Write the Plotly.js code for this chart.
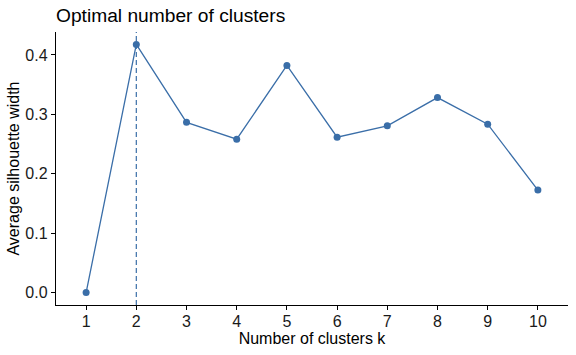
<!DOCTYPE html>
<html>
<head>
<meta charset="utf-8">
<script src="https://cdn.plot.ly/plotly-3.0.1.min.js"></script>
<style>html,body{margin:0;padding:0;background:#fff}#chart{width:576px;height:355px}</style>
</head>
<body>
<div id="chart"></div>
<script>
const clusters = [1, 2, 3, 4, 5, 6, 7, 8, 9, 10];
const silhouette = [0.000, 0.4177, 0.2865, 0.2582, 0.3824, 0.2615, 0.2807, 0.3282, 0.2834, 0.1726];
const optimalK = 2;
const xTickLabels = ['1','2','3','4','5','6','7','8','9','10'];
const yTickVals = [0.0, 0.1, 0.2, 0.3, 0.4];
const yTickLabels = ['0.0', '0.1', '0.2', '0.3', '0.4'];

const color = '#3a6ea8';
const font = 'Arial, "Liberation Sans", Helvetica, sans-serif';

const yRange = [-0.0209, 0.4386];

const traces = [
  {
    x: [optimalK, optimalK],
    y: yRange,
    mode: 'lines',
    line: {color: color, width: 1.2, dash: '5px,3px'},
    hoverinfo: 'skip',
    showlegend: false
  },
  {
    x: clusters,
    y: silhouette,
    mode: 'lines+markers',
    line: {color: color, width: 1.3},
    marker: {color: color, size: 7},
    showlegend: false
  }
];

const layout = {
  width: 576,
  height: 355,
  margin: {l: 56, r: 8, t: 32, b: 50},
  paper_bgcolor: '#fff',
  plot_bgcolor: '#fff',
  font: {family: font, size: 16, color: '#000'},
  title: {
    text: 'Optimal number of clusters',
    font: {family: font, size: 19.2, color: '#000'},
    x: 56 / 576, xanchor: 'left', xref: 'container',
    y: 1 - 15 / 355, yanchor: 'middle', yref: 'container'
  },
  xaxis: {
    range: [0.4, 10.6],
    tickvals: clusters,
    ticktext: xTickLabels,
    ticks: 'outside', ticklen: 4, tickwidth: 1, tickcolor: '#000',
    ticklabelstandoff: -2,
    showline: true, linecolor: '#000', linewidth: 1.2,
    showgrid: false, zeroline: false,
    tickfont: {family: font, size: 16, color: '#1a1a1a'},
    title: {text: 'Number of clusters k', font: {family: font, size: 16, color: '#000'}, standoff: 0}
  },
  yaxis: {
    range: yRange,
    tickvals: yTickVals,
    ticktext: yTickLabels,
    ticks: 'outside', ticklen: 4, tickwidth: 1, tickcolor: '#000',
    showline: true, linecolor: '#000', linewidth: 1.2,
    showgrid: false, zeroline: false,
    tickfont: {family: font, size: 16, color: '#1a1a1a'},
    title: {text: 'Average silhouette width', font: {family: font, size: 16, color: '#000'}, standoff: 1}
  }
};

Plotly.newPlot('chart', traces, layout, {displayModeBar: false, staticPlot: true});
</script>
</body>
</html>
